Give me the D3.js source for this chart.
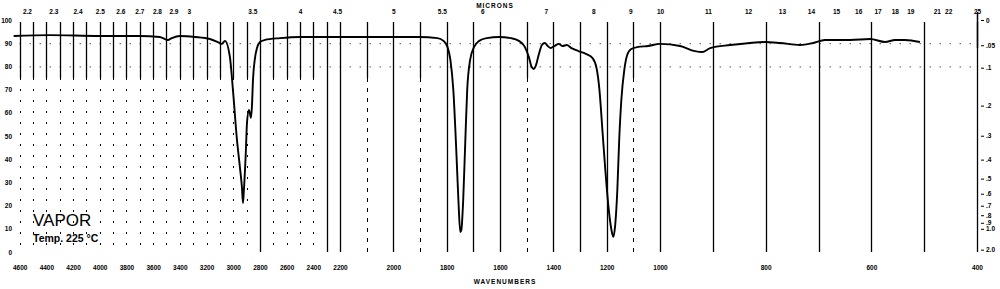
<!DOCTYPE html>
<html lang="en">
  <head>
    <meta charset="UTF-8" />
    <title>IR spectrum</title>
    <style>
      body {
        margin: 0;
        background: #fff;
      }
      svg {
        display: block;
        font-family: "Liberation Sans", Arial, sans-serif;
      }
      .tick text {
        font-size: 6.5px;
        font-weight: bold;
        fill: #000;
      }
      .grid line {
        stroke: #000;
        stroke-width: 1.3;
      }
      .spectrum {
        fill: none;
        stroke: #000;
        stroke-width: 1.9;
        stroke-linejoin: round;
      }
    </style>
    <script src="https://cdn.jsdelivr.net/npm/d3@7"></script>
  </head>
  <body>
    <div class="container"></div>
    <script>
      // spectrum: wavenumber (cm-1) and % transmittance
      const wavenumbers = [
        4645, 4375, 4000, 3700, 3550, 3512, 3490, 3460, 3400, 3287, 3175, 3115,
        3085, 3062, 3025, 3002, 2972, 2950, 2935, 2927, 2920, 2905, 2897, 2882,
        2867, 2860, 2852, 2837, 2822, 2800, 2762, 2650, 2500, 2200, 2051, 1902,
        1835, 1812, 1797, 1786, 1775, 1764, 1756, 1749, 1745, 1738, 1730, 1723,
        1712, 1697, 1678, 1649, 1604, 1559, 1529, 1507, 1492, 1481, 1473, 1466,
        1455, 1443, 1432, 1421, 1410, 1395, 1380, 1365, 1350, 1332, 1306, 1276,
        1253, 1238, 1227, 1216, 1205, 1194, 1182, 1175, 1168, 1160, 1153, 1145,
        1134, 1123, 1108, 1082, 1045, 1000, 962, 934, 920, 905, 867, 830, 801,
        773, 735, 710, 688, 640, 602, 574, 555, 536, 508
      ];
      const transmittance = [
        93.1, 93.5, 93.1, 93.1, 92.7, 91.8, 91.4, 92.2, 93.1, 92.7, 91.8, 90.5,
        89.7, 91, 84.1, 69.8, 48.3, 36.6, 28, 21.1, 26.7, 44, 55.6, 61.2,
        57.8, 62.5, 74.1, 83.6, 87.9, 90.5, 91.4, 92.2, 92.7, 92.7, 92.7, 92.7,
        92.2, 91, 88.4, 82.8, 69.8, 44, 22.4, 8.6, 9.5, 22.4, 48.3, 69.8,
        82.8, 88.4, 91, 92.2, 92.7, 92.2, 91, 88.4, 84.1, 79.7, 78.9, 80.2,
        84.9, 89.2, 90.1, 88.8, 87.9, 88.8, 89.7, 88.8, 89.2, 87.9, 86.6, 85.3,
        83.6, 79.3, 69.8, 52.6, 35.3, 20.3, 9.5, 6.5, 11.6, 26.7, 48.3, 65.5,
        78.4, 84.9, 87.5, 88.4, 88.8, 89.7, 88.8, 86.6, 86.2, 87.9, 89.2, 90.1, 90.5,
        90.1, 89.2, 90.1, 91.4, 91.4, 91.8, 90.5, 91.4, 91.4, 90.5
      ];

      const waveTicks = [
        4600, 4400, 4200, 4000, 3800, 3600, 3400, 3200, 3000, 2800, 2600, 2400,
        2200, 2000, 1800, 1600, 1400, 1200, 1000, 800, 600, 400
      ];
      const micronTicks = [
        2.2, 2.3, 2.4, 2.5, 2.6, 2.7, 2.8, 2.9, 3, 3.5, 4, 4.5, 5, 5.5, 6, 7, 8,
        9, 10, 11, 12, 13, 14, 15, 16, 17, 18, 19, 21, 22, 25
      ];
      const percentTicks = [0, 10, 20, 30, 40, 50, 60, 70, 80, 90, 100];
      const absorbanceTicks = [0, 0.05, 0.1, 0.2, 0.3, 0.4, 0.5, 0.6, 0.7, 0.8, 0.9, 1, 2];

      const width = 1000,
        height = 289;

      // chart paper changes its wavenumber scale at 2200 and 1000 cm-1
      const x = d3
        .scaleLinear()
        .domain([4650, 2200, 1000, 400])
        .range([13, 340, 660, 977]);
      const y = d3.scaleLinear().domain([0, 100]).range([252, 20]);

      const svg = d3
        .select(".container")
        .append("svg")
        .attr("width", width)
        .attr("height", height);

      // vertical chart rulings every 100 cm-1
      const rulings = d3.range(4600, 399, -100);
      const grid = svg.append("g").attr("class", "grid");
      rulings.forEach(function (w) {
        const xx = Math.round(x(w)) + 0.5;
        let full;
        if (w > 2200) full = w === 2800 || w === 2300;
        else if (w > 1000) full = w % 200 === 0 || w === 1300 || w === 1700;
        else full = true;
        grid
          .append("line")
          .attr("x1", xx)
          .attr("x2", xx)
          .attr("y1", y(100) + 2)
          .attr("y2", full ? y(0) : y(75));
        if (!full) {
          grid
            .append("line")
            .attr("x1", xx)
            .attr("x2", xx)
            .attr("y1", y(75))
            .attr("y2", y(0))
            .attr("stroke-dasharray", w > 2200 ? "2,9" : "4,6")
            .style("stroke-width", 1);
        }
      });

      // faint dotted horizontal rulings
      [90, 80].forEach(function (t) {
        svg
          .append("line")
          .attr("x1", x(4600))
          .attr("x2", x(400))
          .attr("y1", y(t) + 0.5)
          .attr("y2", y(t) + 0.5)
          .attr("stroke", "#000")
          .attr("stroke-width", 1)
          .attr("stroke-dasharray", "1,9");
      });

      // right edge bar
      svg
        .append("line")
        .attr("x1", x(400) + 0.5)
        .attr("x2", x(400) + 0.5)
        .attr("y1", 12)
        .attr("y2", y(88))
        .attr("stroke", "#000")
        .attr("stroke-width", 1.5);

      // axes
      const bottomAxis = svg
        .append("g")
        .attr("transform", "translate(0," + 262 + ")")
        .call(d3.axisBottom(x).tickValues(waveTicks).tickSize(0).tickFormat(d3.format("d")));
      bottomAxis.select(".domain").remove();

      const topAxis = svg
        .append("g")
        .attr("transform", "translate(0," + 17 + ")")
        .call(
          d3
            .axisTop(x)
            .tickValues(micronTicks.map((m) => 1e4 / m))
            .tickSize(0)
            .tickFormat((w) => String(+(1e4 / w).toFixed(1)))
        );
      topAxis.select(".domain").remove();

      const leftAxis = svg
        .append("g")
        .attr("transform", "translate(14,0)")
        .call(d3.axisLeft(y).tickValues(percentTicks).tickSize(0).tickPadding(2));
      leftAxis.select(".domain").remove();

      const fmtA = (a) =>
        a === 0 ? "0" : a >= 1 ? a.toFixed(1) : d3.format(".2~f")(a).replace(/^0/, "");
      const rightAxis = svg
        .append("g")
        .attr("transform", "translate(981,0)")
        .call(
          d3
            .axisRight(y)
            .tickValues(absorbanceTicks.map((a) => 100 * Math.pow(10, -a)))
            .tickSize(3)
            .tickPadding(2)
            .tickFormat((t) => fmtA(+(-Math.log10(t / 100)).toFixed(2)))
        );
      rightAxis.select(".domain").remove();
      rightAxis.selectAll(".tick line").attr("stroke", "#000");

      // titles
      svg
        .append("text")
        .attr("x", 495)
        .attr("y", 8)
        .attr("text-anchor", "middle")
        .style("font-size", "6.5px")
        .style("font-weight", "bold")
        .style("letter-spacing", "1px")
        .text("MICRONS");
      svg
        .append("text")
        .attr("x", 505)
        .attr("y", 284)
        .attr("text-anchor", "middle")
        .style("font-size", "6.5px")
        .style("font-weight", "bold")
        .style("letter-spacing", "1px")
        .text("WAVENUMBERS");

      svg
        .append("text")
        .attr("x", 33)
        .attr("y", 226)
        .style("font-size", "17px")
        .text("VAPOR");
      svg
        .append("text")
        .attr("x", 33)
        .attr("y", 242)
        .style("font-size", "10.5px")
        .style("font-weight", "bold")
        .text("Temp. 225 \u00b0C");

      // the spectrum trace
      const points = wavenumbers.map((w, i) => [w, transmittance[i]]);
      const line = d3
        .line()
        .x((d) => x(d[0]))
        .y((d) => y(d[1]))
        .curve(d3.curveMonotoneX);
      svg.append("path").datum(points.slice().reverse()).attr("class", "spectrum").attr("d", line);
    </script>
  </body>
</html>
